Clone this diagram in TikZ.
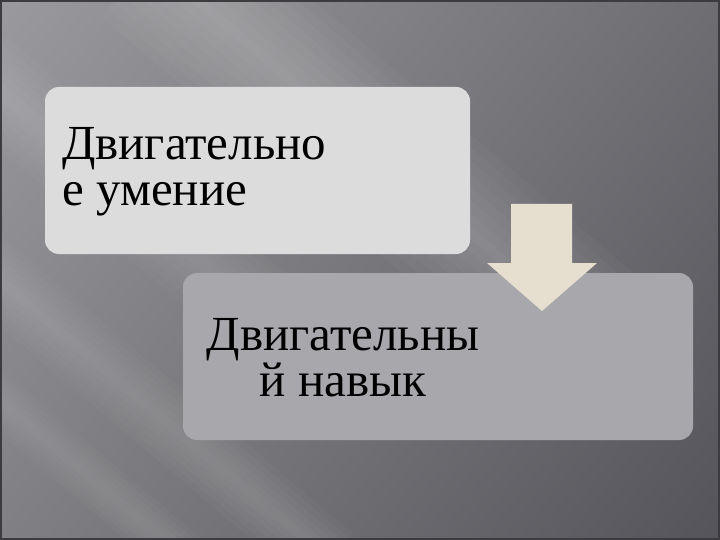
\documentclass[tikz,border=0pt]{standalone}
\usepackage{fontspec}
\setmainfont{Liberation Serif}
\usetikzlibrary{shadings}
\definecolor{bgA}{HTML}{9A9A9E}
\definecolor{bgM}{HTML}{6E6D72}
\definecolor{bgL}{HTML}{808084}
\definecolor{bgB}{HTML}{55545A}
\definecolor{boxA}{HTML}{DCDCDC}
\definecolor{boxB}{HTML}{A8A7AC}
\definecolor{arrowc}{HTML}{E6DFD0}
\definecolor{frame}{HTML}{3C3B40}
\tikzset{
  panel/.style={rounded corners=14pt, draw=none},
  label/.style={inner sep=0pt, font=\fontsize{49}{46}\selectfont, text=black},
  streakline/.style={draw=white, line cap=butt, opacity=#1},
}
\begin{document}
\begin{tikzpicture}[x=1pt,y=-1pt]
\useasboundingbox (0,0) rectangle (720,540);
% background
\shade[upper left=bgA, upper right=bgM, lower left=bgL, lower right=bgB] (0,0) rectangle (720,540);
% soft light streaks
\coordinate (s1a) at (150,-40);
\coordinate (s1b) at (620,360);
\coordinate (s2a) at (-60,40);
\coordinate (s2b) at (330,370);
\coordinate (s3a) at (-60,230);
\coordinate (s3b) at (330,560);
\coordinate (s4a) at (-60,350);
\coordinate (s4b) at (200,570);
\begin{scope}
\clip (0,0) rectangle (720,540);
\foreach \w in {150,130,...,10} {\draw[streakline=0.028, line width=\w pt] (s1a) -- (s1b);}
\foreach \w in {90,75,...,15} {\draw[streakline=0.025, line width=\w pt] (s2a) -- (s2b);}
\foreach \w in {70,58,...,10} {\draw[streakline=0.025, line width=\w pt] (s3a) -- (s3b);}
\foreach \w in {50,40,...,10} {\draw[streakline=0.022, line width=\w pt] (s4a) -- (s4b);}
\end{scope}
\draw[frame, line width=3.5pt] (0,0) rectangle (720,540);
% boxes
\path[panel, fill=boxA] (45,87) rectangle (470,254);
\node[label, align=left, anchor=west] (t1) at (62,172) {Двигательно\\е умение};
\path[panel, fill=boxB] (183,273) rectangle (693,440);
\node[label, align=center, anchor=center] (t2) at (343,358) {Двигательны\\й навык};
% arrow
\fill[arrowc] (511,204) -- (572,204) -- (572,263) -- (597,263) -- (542,311) -- (487,263) -- (511,263) -- cycle;
\end{tikzpicture}
\end{document}
